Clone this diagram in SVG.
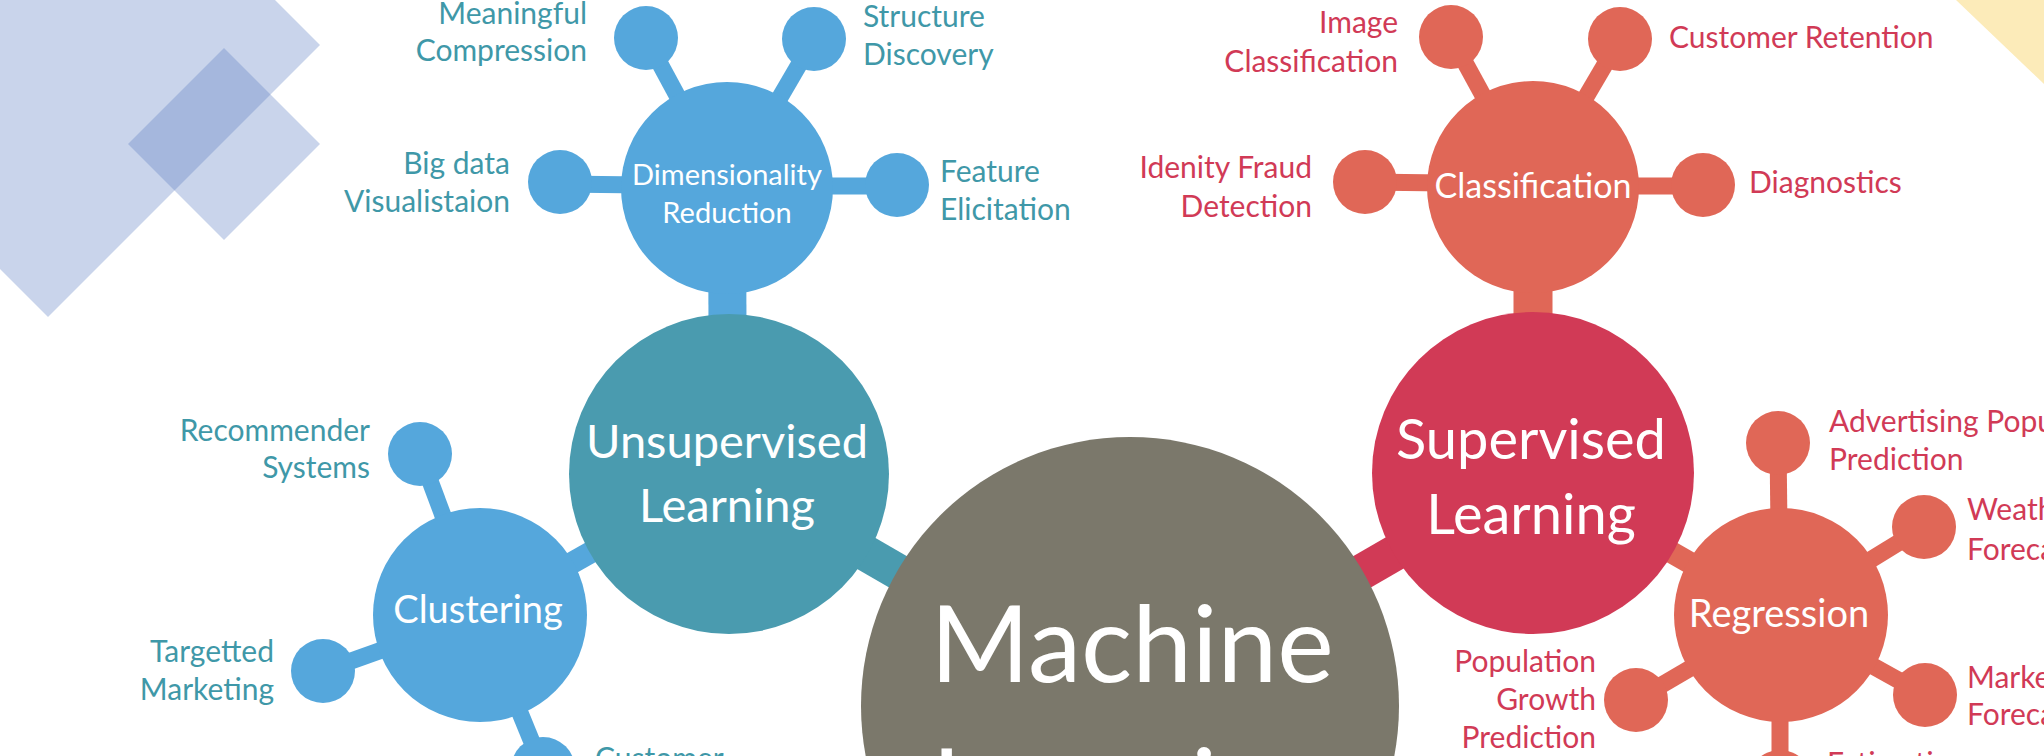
<svg xmlns="http://www.w3.org/2000/svg" width="2044" height="756" viewBox="0 0 2044 756">
<style>
text{font-family:Lato,"Open Sans","Liberation Sans",sans-serif}
.lb{font-size:30px}
.tl{fill:#3f98a8}
.cr{fill:#d13a56}
.w{fill:#fff}
.m{text-anchor:middle}
.e{text-anchor:end}
.blue{fill:#55a7dc}
.teal{fill:#4a9baf}
.gray{fill:#7b786b}
.crim{fill:#d13a56}
.orng{fill:#e06757}
.sb{stroke:#55a7dc}
.st{stroke:#4a9baf}
.sc{stroke:#d13a56}
.so{stroke:#e06757}
.stem{stroke-width:17;fill:none}
.dia{fill:#5d7ec3;fill-opacity:0.333}
</style>
<rect width="2044" height="756" fill="#fff"/>
<g id="background">
<polygon class="dia" points="48,-227 320,45 48,317 -224,45"/>
<polygon class="dia" points="224,48 320,144 224,240 128,144"/>
<polygon points="1956,0 2044,0 2044,84" fill="#fcebb9"/>
</g>
<g id="connectors">
<line class="sb" x1="727" y1="188" x2="728" y2="474" stroke-width="38"/>
<line class="so" x1="1533" y1="187" x2="1533" y2="473" stroke-width="39"/>
<line class="sb" x1="480" y1="615" x2="729" y2="474" stroke-width="22"/>
<line class="so" x1="1781" y1="615" x2="1533" y2="473" stroke-width="22"/>
<line class="st" x1="729" y1="474" x2="1130" y2="706" stroke-width="36"/>
<line class="sc" x1="1533" y1="473" x2="1130" y2="706" stroke-width="36"/>
<line class="sb stem" x1="646" y1="38" x2="727" y2="188"/>
<line class="sb stem" x1="814" y1="39" x2="727" y2="188"/>
<line class="sb stem" x1="560" y1="184" x2="727" y2="186"/>
<line class="sb stem" x1="897" y1="186" x2="727" y2="186"/>
<line class="sb stem" x1="420" y1="454" x2="480" y2="615"/>
<line class="sb stem" x1="323" y1="671" x2="480" y2="615"/>
<line class="sb stem" x1="543" y1="769" x2="480" y2="615"/>
<line class="so stem" x1="1451" y1="37" x2="1533" y2="187"/>
<line class="so stem" x1="1620" y1="39" x2="1533" y2="187"/>
<line class="so stem" x1="1365" y1="182" x2="1533" y2="184"/>
<line class="so stem" x1="1703" y1="186" x2="1533" y2="186"/>
<line class="so stem" x1="1778" y1="443" x2="1780" y2="615"/>
<line class="so stem" x1="1924" y1="527" x2="1781" y2="615"/>
<line class="so stem" x1="1925" y1="695" x2="1781" y2="615"/>
<line class="so stem" x1="1636" y1="700" x2="1781" y2="615"/>
<line class="so stem" x1="1780" y1="782" x2="1780" y2="615"/>
</g>
<g id="machine-learning">
<circle class="gray" cx="1130" cy="706" r="269"/>
<text class="w m" x="1132" y="682" font-size="107">Machine</text>
<text class="w m" x="1132" y="825" font-size="107">Learning</text>
</g>
<g id="unsupervised-learning">
<circle class="teal" cx="729" cy="474" r="160"/>
<text class="w m" x="727" y="458" font-size="47">Unsupervised</text>
<text class="w m" x="727" y="522" font-size="47">Learning</text>
</g>
<g id="supervised-learning">
<circle class="crim" cx="1533" cy="473" r="161"/>
<text class="w m" x="1531" y="459" font-size="56">Supervised</text>
<text class="w m" x="1531" y="534" font-size="56">Learning</text>
</g>
<g id="dimensionality-reduction">
<circle class="blue" cx="727" cy="188" r="106"/>
<text class="w m" x="727" y="185" font-size="29">Dimensionality</text>
<text class="w m" x="727" y="223" font-size="29">Reduction</text>
</g>
<g id="clustering">
<circle class="blue" cx="480" cy="615" r="107"/>
<text class="w m" x="478" y="623" font-size="38">Clustering</text>
</g>
<g id="classification">
<circle class="orng" cx="1533" cy="187" r="106"/>
<text class="w m" x="1533" y="198" font-size="34">Classification</text>
</g>
<g id="regression">
<circle class="orng" cx="1781" cy="615" r="107"/>
<text class="w m" x="1779" y="627" font-size="38">Regression</text>
</g>
<g id="meaningful-compression">
<circle class="blue" cx="646" cy="38" r="32"/>
<text class="lb tl e" x="587" y="24">Meaningful</text>
<text class="lb tl e" x="587" y="61">Compression</text>
</g>
<g id="structure-discovery">
<circle class="blue" cx="814" cy="39" r="32"/>
<text class="lb tl" x="863" y="27">Structure</text>
<text class="lb tl" x="863" y="65">Discovery</text>
</g>
<g id="big-data-visualisation">
<circle class="blue" cx="560" cy="182" r="32"/>
<text class="lb tl e" x="510" y="174">Big data</text>
<text class="lb tl e" x="510" y="212">Visualistaion</text>
</g>
<g id="feature-elicitation">
<circle class="blue" cx="897" cy="185" r="32"/>
<text class="lb tl" x="940" y="182">Feature</text>
<text class="lb tl" x="940" y="220">Elicitation</text>
</g>
<g id="recommender-systems">
<circle class="blue" cx="420" cy="454" r="32"/>
<text class="lb tl e" x="370" y="441">Recommender</text>
<text class="lb tl e" x="370" y="478">Systems</text>
</g>
<g id="targetted-marketing">
<circle class="blue" cx="323" cy="671" r="32"/>
<text class="lb tl e" x="274" y="662">Targetted</text>
<text class="lb tl e" x="274" y="700">Marketing</text>
</g>
<g id="customer">
<circle class="blue" cx="543" cy="769" r="32"/>
<text class="lb tl" x="595" y="769">Customer</text>
</g>
<g id="image-classification">
<circle class="orng" cx="1451" cy="37" r="32"/>
<text class="lb cr e" x="1398" y="33">Image</text>
<text class="lb cr e" x="1398" y="72">Classification</text>
</g>
<g id="customer-retention">
<circle class="orng" cx="1620" cy="39" r="32"/>
<text class="lb cr" x="1669" y="48">Customer Retention</text>
</g>
<g id="identity-fraud-detection">
<circle class="orng" cx="1365" cy="182" r="32"/>
<text class="lb cr e" x="1312" y="178">Idenity Fraud</text>
<text class="lb cr e" x="1312" y="217">Detection</text>
</g>
<g id="diagnostics">
<circle class="orng" cx="1703" cy="185" r="32"/>
<text class="lb cr" x="1749" y="193">Diagnostics</text>
</g>
<g id="advertising-popularity-prediction">
<circle class="orng" cx="1778" cy="443" r="32"/>
<text class="lb cr" x="1829" y="432">Advertising Popularity</text>
<text class="lb cr" x="1829" y="470">Prediction</text>
</g>
<g id="weather-forecasting">
<circle class="orng" cx="1924" cy="527" r="32"/>
<text class="lb cr" x="1967" y="520">Weather</text>
<text class="lb cr" x="1967" y="560">Forecasting</text>
</g>
<g id="market-forecasting">
<circle class="orng" cx="1925" cy="695" r="32"/>
<text class="lb cr" x="1967" y="688">Market</text>
<text class="lb cr" x="1967" y="725">Forecasting</text>
</g>
<g id="population-growth-prediction">
<circle class="orng" cx="1636" cy="700" r="32"/>
<text class="lb cr e" x="1596" y="672">Population</text>
<text class="lb cr e" x="1596" y="710">Growth</text>
<text class="lb cr e" x="1596" y="748">Prediction</text>
</g>
<g id="estimating">
<circle class="orng" cx="1780" cy="782" r="32"/>
<text class="lb cr" x="1827" y="774">Estimating</text>
</g>
</svg>
